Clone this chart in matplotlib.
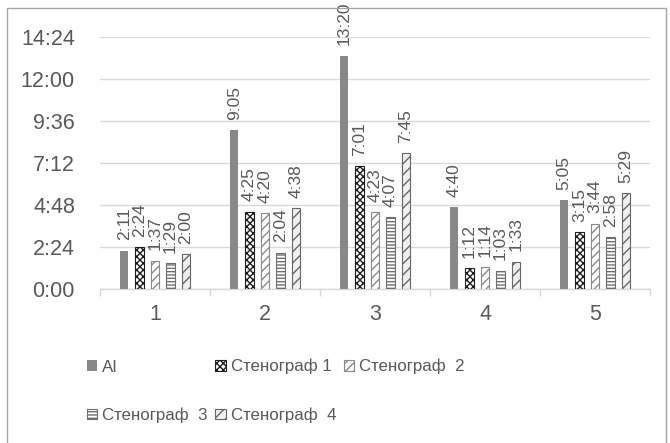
import matplotlib
matplotlib.use("Agg")
import matplotlib.pyplot as plt
from matplotlib.patches import Rectangle

plt.rcParams['font.family'] = ['Liberation Sans', 'DejaVu Sans']
plt.rcParams['hatch.linewidth'] = 1.0

# Session durations (m:ss) for each recording
categories = ["1", "2", "3", "4", "5"]
series_names = ["AI", "Стенограф 1", "Стенограф  2", "Стенограф  3", "Стенограф  4"]
ai = ["2:11", "9:05", "13:20", "4:40", "5:05"]
steno1 = ["2:24", "4:25", "7:01", "1:12", "3:15"]
steno2 = ["1:37", "4:20", "4:23", "1:14", "3:44"]
steno3 = ["1:29", "2:04", "4:07", "1:03", "2:58"]
steno4 = ["2:00", "4:38", "7:45", "1:33", "5:29"]
y_ticks = ["0:00", "2:24", "4:48", "7:12", "9:36", "12:00", "14:24"]


def to_seconds(s):
    m, sec = s.split(":")
    return int(m) * 60 + int(sec)


series = [ai, steno1, steno2, steno3, steno4]
styles = [
    dict(color="#888888", edgecolor="#888888", hatch=None, linewidth=0),
    dict(color="white", edgecolor="#1e1e1e", hatch="xxxxx", linewidth=0.8),
    dict(color="white", edgecolor="#8a8a8a", hatch="////", linewidth=0.8),
    dict(color="white", edgecolor="#6e6e6e", hatch="-----", linewidth=0.8),
    dict(color="#f0f0f0", edgecolor="#666666", hatch="///", linewidth=0.8),
]

text_color = "#595959"
grid_color = "#d9d9d9"

fig = plt.figure(figsize=(6.70, 4.43), dpi=100)
ax = fig.add_axes([100 / 670, 154 / 443, 550 / 670, 252 / 443])

x = list(range(1, len(categories) + 1))
step = 0.14
width = 0.078
handles = []
for i, (vals, st) in enumerate(zip(series, styles)):
    offs = (i - 2) * step
    secs = [to_seconds(v) for v in vals]
    bars = ax.bar([xi + offs for xi in x], secs, width=width, zorder=3, **st)
    handles.append(bars)
    for xi, s, lab in zip(x, secs, vals):
        ax.annotate(lab, (xi + offs, s), xytext=(0, 7.5), textcoords="offset points",
                    rotation=90, ha="center", va="bottom", fontsize=12.5,
                    color=text_color, zorder=4)

tick_vals = [to_seconds(t) for t in y_ticks]
ax.set_ylim(0, tick_vals[-1])
ax.set_yticks(tick_vals)
ax.set_yticklabels(y_ticks)
ax.set_xlim(0.5, len(categories) + 0.5)
ax.set_xticks(x)
ax.set_xticklabels(categories)
ax.set_xticks([xi - 0.5 for xi in x] + [x[-1] + 0.5], minor=True)

ax.tick_params(axis="y", length=0, labelsize=15.5, labelcolor=text_color, pad=18)
ax.tick_params(axis="x", which="major", length=0, labelsize=15.5, labelcolor=text_color, pad=11)
ax.tick_params(axis="x", which="minor", length=5, color=grid_color, width=1)

ax.yaxis.grid(True, color=grid_color, linewidth=1, zorder=0)
ax.set_axisbelow(True)
for side in ("left", "right", "top"):
    ax.spines[side].set_visible(False)
ax.spines["bottom"].set_color(grid_color)
ax.spines["bottom"].set_linewidth(1)

# Legend laid out row-wise in three columns
order = [0, 3, 1, 4, 2]
leg = fig.legend([handles[i] for i in order], [series_names[i] for i in order],
                 ncol=3, loc="upper left", bbox_to_anchor=(87 / 670, 1 - 359 / 443),
                 frameon=False, fontsize=12.2, labelcolor=text_color,
                 handlelength=0.6, handleheight=0.6, handletextpad=0.3,
                 columnspacing=0.45, labelspacing=1.95, borderpad=0, borderaxespad=0)

# Outer chart border
fig.patches.append(Rectangle((7 / 670, -0.05), 659 / 670, 1.05 - 8 / 443,
                             transform=fig.transFigure, fill=False,
                             edgecolor="#a6a6a6", linewidth=1))

fig.savefig("out.png", dpi=100)
